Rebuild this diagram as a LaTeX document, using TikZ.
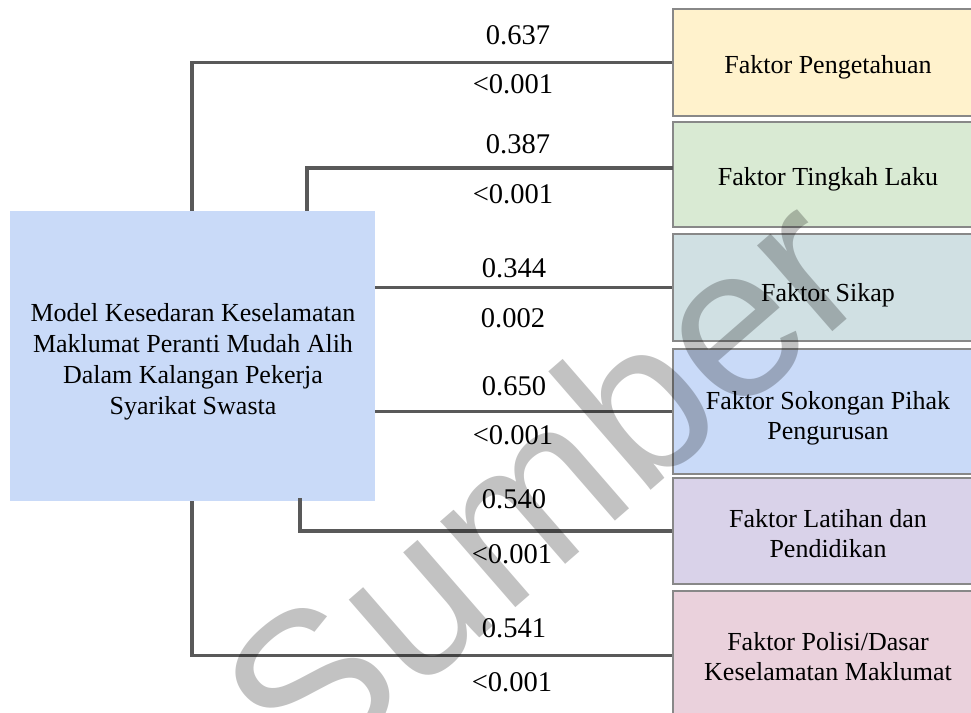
\documentclass[tikz,border=0pt]{standalone}
\usepackage{fontspec}
\setmainfont{Liberation Serif}
\newfontfamily\wmfont{Liberation Sans}
\definecolor{mainfill}{HTML}{C9DAF8}
\definecolor{cA}{HTML}{FFF2CC}
\definecolor{cB}{HTML}{D9EAD3}
\definecolor{cC}{HTML}{D0E0E3}
\definecolor{cD}{HTML}{C9DAF8}
\definecolor{cE}{HTML}{D9D2E9}
\definecolor{cF}{HTML}{EAD1DC}
\definecolor{boxline}{HTML}{888888}
\definecolor{connline}{HTML}{595959}
\begin{document}
\begin{tikzpicture}[x=0.75pt,y=-0.75pt,
  factor/.style={draw=boxline, line width=1.1pt, minimum width=232.5pt, inner sep=0pt},
  model/.style={fill=mainfill, minimum width=273.75pt, minimum height=217.5pt, inner sep=0pt},
  label text/.style={align=center, inner sep=0pt, font=\fontsize{19.5}{22.5}\selectfont},
  model text/.style={align=center, inner sep=0pt, font=\fontsize{19.5}{23.3}\selectfont},
  conn/.style={draw=connline, line width=2.4pt},
  stat/.style={font=\fontsize{21.4}{24}\selectfont, anchor=base, inner sep=0pt},
  wm/.style={rotate=41, text=black, text opacity=0.24,
    font=\wmfont\fontsize{162}{162}\selectfont, inner sep=0pt}]
\useasboundingbox (0,0) rectangle (971,713);
\clip (0,0) rectangle (971,713);

% central model box
\node[model] (main) at (192.5,356) {};
\node[model text] (mainlabel) at (193,362) {Model Kesedaran Keselamatan\\Maklumat Peranti Mudah Alih\\Dalam Kalangan Pekerja\\Syarikat Swasta};

% factor boxes
\node[factor, fill=cA, minimum height=80.25pt] (b1) at (828,62.5) {};
\node[factor, fill=cB, minimum height=78.75pt] (b2) at (828,174.5) {};
\node[factor, fill=cC, minimum height=80.25pt] (b3) at (828,287.5) {};
\node[factor, fill=cD, minimum height=93.75pt] (b4) at (828,411.5) {};
\node[factor, fill=cE, minimum height=79.5pt] (b5) at (828,531) {};
\node[factor, fill=cF, minimum height=96.75pt] (b6) at (828,655.5) {};

\node[label text] (t1) at (828,67.5) {Faktor Pengetahuan};
\node[label text] (t2) at (828,179.5) {Faktor Tingkah Laku};
\node[label text] (t3) at (828,295.5) {Faktor Sikap};
\node[label text] (t4) at (828,418.5) {Faktor Sokongan Pihak\\Pengurusan};
\node[label text] (t5) at (828,534) {Faktor Latihan dan\\Pendidikan};
\node[label text] (t6) at (828,656.5) {Faktor Polisi/Dasar\\Keselamatan Maklumat};

% connector start points on the model box
\coordinate (s1) at (192,211);
\coordinate (s2) at (307,211);
\coordinate (s5) at (300,498);
\coordinate (s6) at (192,501);
\coordinate (e2) at (673,168);

\draw[conn] (s1) |- (b1.west);
\draw[conn] (s2) |- (e2);
\draw[conn] (b3.west -| main.east) -- (b3.west);
\draw[conn] (b4.west -| main.east) -- (b4.west);
\draw[conn] (s5) |- (b5.west);
\draw[conn] (s6) |- (b6.west);

% coefficients and p-values
\node[stat] (r1) at (518,45) {0.637};
\node[stat] (p1) at (513,94) {<0.001};
\node[stat] (r2) at (518,154) {0.387};
\node[stat] (p2) at (513,204) {<0.001};
\node[stat] (r3) at (514,277) {0.344};
\node[stat] (p3) at (513,327) {0.002};
\node[stat] (r4) at (514,395) {0.650};
\node[stat] (p4) at (513,444) {<0.001};
\node[stat] (r5) at (514,508) {0.540};
\node[stat] (p5) at (512,563) {<0.001};
\node[stat] (r6) at (514,637) {0.541};
\node[stat] (p6) at (512,691) {<0.001};

% watermark
\node[wm] (mark) at (540,484) {Sumber};
\end{tikzpicture}
\end{document}
